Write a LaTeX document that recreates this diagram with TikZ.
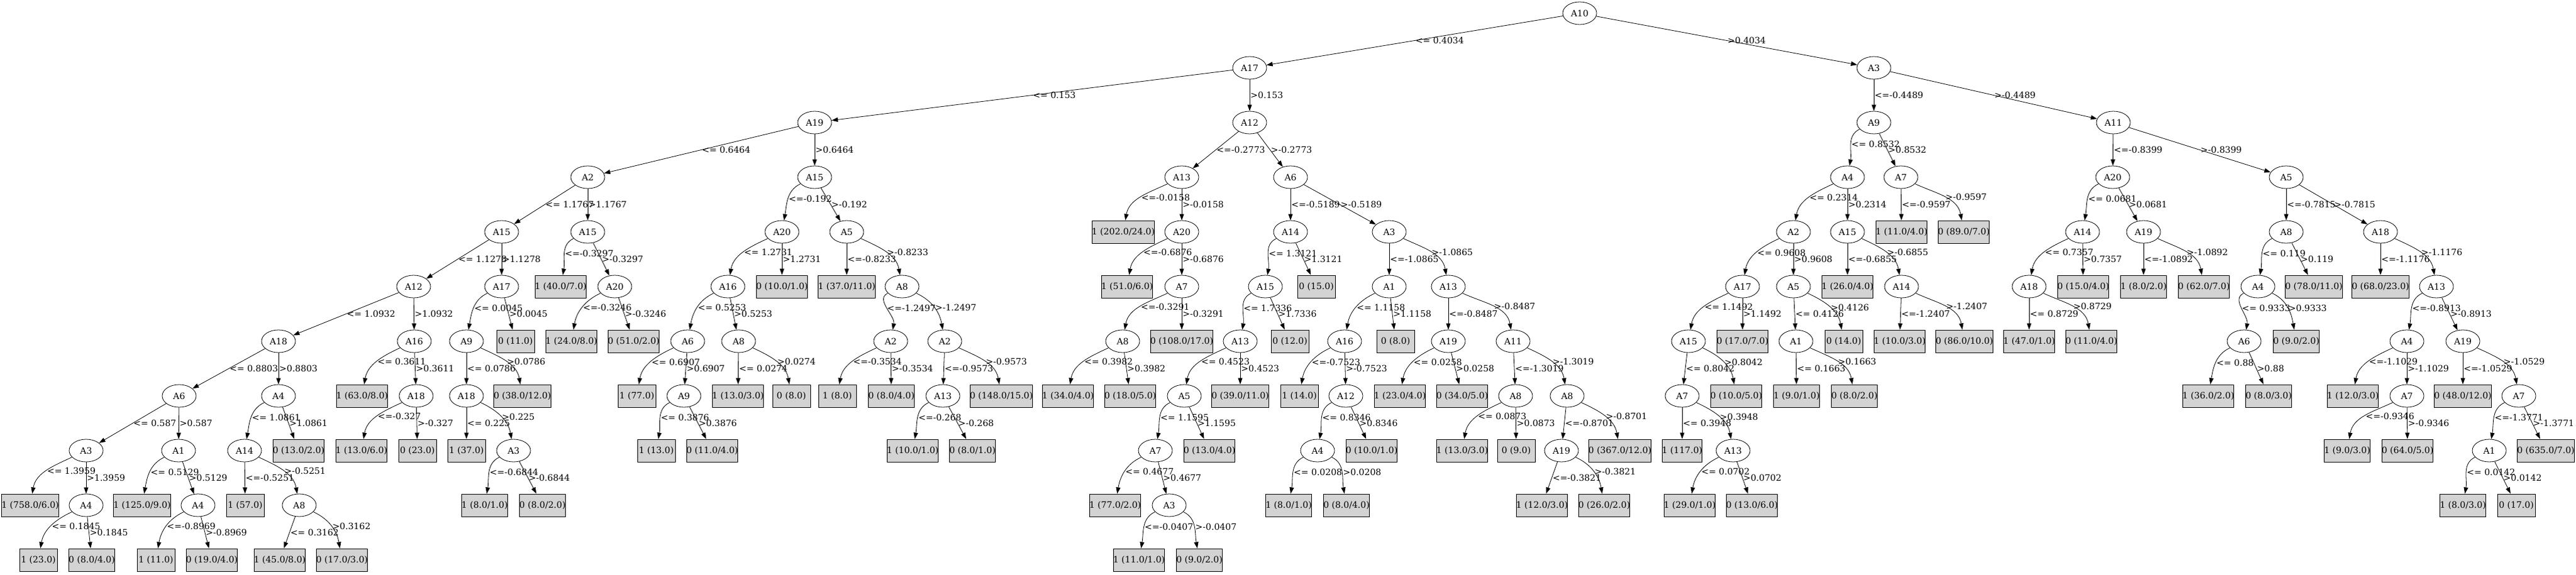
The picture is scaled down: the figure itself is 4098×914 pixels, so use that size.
\documentclass[tikz,border=0pt]{standalone}
\usepackage{fontspec}
\setmainfont{DejaVu Serif}
\usetikzlibrary{arrows.meta,shapes.geometric}
\definecolor{leafgray}{HTML}{D3D3D3}
\begin{document}
\begin{tikzpicture}[x=1pt,y=1pt,
  attr/.style={ellipse,draw,line width=0.8pt,minimum width=54pt,minimum height=36pt,inner sep=0pt,font=\fontsize{14}{17}\selectfont},
  leaf/.style={rectangle,draw,line width=0.9pt,fill=leafgray,minimum width=60pt,minimum height=36pt,inner xsep=-0.5pt,inner ysep=0pt,font=\fontsize{14}{17}\selectfont},
  edge/.style={line width=0.8pt,-{Triangle[length=10pt,width=7pt]}},
  flat/.style={},
  bendl/.style={out=205,in=80},
  bendr/.style={out=-25,in=100},
  lbl/.style={anchor=west,inner sep=1pt,font=\fontsize{14}{17}\selectfont}]
\useasboundingbox (0,0) rectangle (4098,-914);
% left half: A17
\node[attr] (n) at (2513,-21) {A10};
\node[attr] (nl) at (1988,-108) {A17};
\node[attr] (nll) at (1296,-195) {A19};
\node[attr] (nlll) at (935,-282) {A2};
\node[attr] (nllll) at (798,-369) {A15};
\node[attr] (nlllll) at (658,-456) {A12};
\node[attr] (nllllll) at (443,-543) {A18};
\node[attr] (nlllllll) at (285,-630) {A6};
\node[attr] (nllllllll) at (137,-717) {A3};
\node[leaf] (nlllllllll) at (48,-804) {1 (758.0/6.0)};
\node[attr] (nllllllllr) at (137,-804) {A4};
\node[leaf] (nllllllllrl) at (61,-891) {1 (23.0)};
\node[leaf] (nllllllllrr) at (146,-891) {0 (8.0/4.0)};
\node[attr] (nlllllllr) at (284,-717) {A1};
\node[leaf] (nlllllllrl) at (226,-804) {1 (125.0/9.0)};
\node[attr] (nlllllllrr) at (315,-804) {A4};
\node[leaf] (nlllllllrrl) at (248,-891) {1 (11.0)};
\node[leaf] (nlllllllrrr) at (337,-891) {0 (19.0/4.0)};
\node[attr] (nllllllr) at (443,-630) {A4};
\node[attr] (nllllllrl) at (389,-717) {A14};
\node[leaf] (nllllllrll) at (390,-804) {1 (57.0)};
\node[attr] (nllllllrlr) at (476,-804) {A8};
\node[leaf] (nllllllrlrl) at (445,-891) {1 (45.0/8.0)};
\node[leaf] (nllllllrlrr) at (544,-891) {0 (17.0/3.0)};
\node[leaf] (nllllllrr) at (475,-717) {0 (13.0/2.0)};
\node[attr] (nlllllr) at (659,-543) {A16};
\node[leaf] (nlllllrl) at (576,-630) {1 (63.0/8.0)};
\node[attr] (nlllllrr) at (662,-630) {A18};
\node[leaf] (nlllllrrl) at (575,-717) {1 (13.0/6.0)};
\node[leaf] (nlllllrrr) at (664,-717) {0 (23.0)};
\node[attr] (nllllr) at (798,-456) {A17};
\node[attr] (nllllrl) at (742,-543) {A9};
\node[attr] (nllllrll) at (742,-630) {A18};
\node[leaf] (nllllrlll) at (742,-717) {1 (37.0)};
\node[attr] (nllllrllr) at (817,-717) {A3};
\node[leaf] (nllllrllrl) at (771,-804) {1 (8.0/1.0)};
\node[leaf] (nllllrllrr) at (863,-804) {0 (8.0/2.0)};
\node[leaf] (nllllrlr) at (831,-630) {0 (38.0/12.0)};
\node[leaf] (nllllrr) at (820,-543) {0 (11.0)};
\node[attr] (nlllr) at (935,-369) {A15};
\node[leaf] (nlllrl) at (892,-456) {1 (40.0/7.0)};
\node[attr] (nlllrr) at (978,-456) {A20};
\node[leaf] (nlllrrl) at (909,-543) {1 (24.0/8.0)};
\node[leaf] (nlllrrr) at (1008,-543) {0 (51.0/2.0)};
\node[attr] (nllr) at (1296,-282) {A15};
\node[attr] (nllrl) at (1244,-369) {A20};
\node[attr] (nllrll) at (1158,-456) {A16};
\node[attr] (nllrlll) at (1094,-543) {A6};
\node[leaf] (nllrllll) at (1013,-630) {1 (77.0)};
\node[attr] (nllrlllr) at (1088,-630) {A9};
\node[leaf] (nllrlllrl) at (1044,-717) {1 (13.0)};
\node[leaf] (nllrlllrr) at (1133,-717) {0 (11.0/4.0)};
\node[attr] (nllrllr) at (1175,-543) {A8};
\node[leaf] (nllrllrl) at (1174,-630) {1 (13.0/3.0)};
\node[leaf] (nllrllrr) at (1259,-630) {0 (8.0)};
\node[leaf] (nllrlr) at (1244,-456) {0 (10.0/1.0)};
\node[attr] (nllrr) at (1347,-369) {A5};
\node[leaf] (nllrrl) at (1347,-456) {1 (37.0/11.0)};
\node[attr] (nllrrr) at (1435,-456) {A8};
\node[attr] (nllrrrl) at (1417,-543) {A2};
\node[leaf] (nllrrrll) at (1332,-630) {1 (8.0)};
\node[leaf] (nllrrrlr) at (1418,-630) {0 (8.0/4.0)};
\node[attr] (nllrrrr) at (1503,-543) {A2};
\node[attr] (nllrrrrl) at (1500,-630) {A13};
\node[leaf] (nllrrrrll) at (1452,-717) {1 (10.0/1.0)};
\node[leaf] (nllrrrrlr) at (1547,-717) {0 (8.0/1.0)};
\node[leaf] (nllrrrrr) at (1593,-630) {0 (148.0/15.0)};
\node[attr] (nlr) at (1988,-195) {A12};
\node[attr] (nlrl) at (1880,-282) {A13};
\node[leaf] (nlrll) at (1787,-369) {1 (202.0/24.0)};
\node[attr] (nlrlr) at (1880,-369) {A20};
\node[leaf] (nlrlrl) at (1793,-456) {1 (51.0/6.0)};
\node[attr] (nlrlrr) at (1880,-456) {A7};
\node[attr] (nlrlrrl) at (1786,-543) {A8};
\node[leaf] (nlrlrrll) at (1699,-630) {1 (34.0/4.0)};
\node[leaf] (nlrlrrlr) at (1798,-630) {0 (18.0/5.0)};
\node[leaf] (nlrlrrr) at (1880,-543) {0 (108.0/17.0)};
\node[attr] (nlrr) at (2053,-282) {A6};
\node[attr] (nlrrl) at (2053,-369) {A14};
\node[attr] (nlrrll) at (2013,-456) {A15};
\node[attr] (nlrrlll) at (1973,-543) {A13};
\node[attr] (nlrrllll) at (1884,-630) {A5};
\node[attr] (nlrrlllll) at (1838,-717) {A7};
\node[leaf] (nlrrllllll) at (1774,-804) {1 (77.0/2.0)};
\node[attr] (nlrrlllllr) at (1860,-804) {A3};
\node[leaf] (nlrrlllllrl) at (1812,-891) {1 (11.0/1.0)};
\node[leaf] (nlrrlllllrr) at (1908,-891) {0 (9.0/2.0)};
\node[leaf] (nlrrllllr) at (1924,-717) {0 (13.0/4.0)};
\node[leaf] (nlrrlllr) at (1973,-630) {0 (39.0/11.0)};
\node[leaf] (nlrrllr) at (2052,-543) {0 (12.0)};
\node[leaf] (nlrrlr) at (2094,-456) {0 (15.0)};
\node[attr] (nlrrr) at (2210,-369) {A3};
\node[attr] (nlrrrl) at (2210,-456) {A1};
\node[attr] (nlrrrll) at (2139,-543) {A16};
\node[leaf] (nlrrrlll) at (2067,-630) {1 (14.0)};
\node[attr] (nlrrrllr) at (2141,-630) {A12};
\node[attr] (nlrrrllrl) at (2096,-717) {A4};
\node[leaf] (nlrrrllrll) at (2050,-804) {1 (8.0/1.0)};
\node[leaf] (nlrrrllrlr) at (2142,-804) {0 (8.0/4.0)};
\node[leaf] (nlrrrllrr) at (2182,-717) {0 (10.0/1.0)};
\node[leaf] (nlrrrlr) at (2220,-543) {0 (8.0)};
\node[attr] (nlrrrr) at (2304,-456) {A13};
\node[attr] (nlrrrrl) at (2304,-543) {A19};
\node[leaf] (nlrrrrll) at (2227,-630) {1 (23.0/4.0)};
\node[leaf] (nlrrrrlr) at (2326,-630) {0 (34.0/5.0)};
\node[attr] (nlrrrrr) at (2407,-543) {A11};
\node[attr] (nlrrrrrl) at (2411,-630) {A8};
\node[leaf] (nlrrrrrll) at (2326,-717) {1 (13.0/3.0)};
\node[leaf] (nlrrrrrlr) at (2412,-717) {0 (9.0)};
\node[attr] (nlrrrrrr) at (2493,-630) {A8};
\node[attr] (nlrrrrrrl) at (2484,-717) {A19};
\node[leaf] (nlrrrrrrll) at (2453,-804) {1 (12.0/3.0)};
\node[leaf] (nlrrrrrrlr) at (2552,-804) {0 (26.0/2.0)};
\node[leaf] (nlrrrrrrr) at (2577,-717) {0 (367.0/12.0)};
% right half: A3
\node[attr] (nr) at (2981,-108) {A3};
\node[attr] (nrl) at (2981,-195) {A9};
\node[attr] (nrll) at (2939,-282) {A4};
\node[attr] (nrlll) at (2853,-369) {A2};
\node[attr] (nrllll) at (2772,-456) {A17};
\node[attr] (nrlllll) at (2686,-543) {A15};
\node[attr] (nrllllll) at (2676,-630) {A7};
\node[leaf] (nrlllllll) at (2676,-717) {1 (117.0)};
\node[attr] (nrllllllr) at (2757,-717) {A13};
\node[leaf] (nrllllllrl) at (2688,-804) {1 (29.0/1.0)};
\node[leaf] (nrllllllrr) at (2787,-804) {0 (13.0/6.0)};
\node[leaf] (nrlllllr) at (2762,-630) {0 (10.0/5.0)};
\node[leaf] (nrllllr) at (2772,-543) {0 (17.0/7.0)};
\node[attr] (nrlllr) at (2853,-456) {A5};
\node[attr] (nrlllrl) at (2857,-543) {A1};
\node[leaf] (nrlllrll) at (2858,-630) {1 (9.0/1.0)};
\node[leaf] (nrlllrlr) at (2950,-630) {0 (8.0/2.0)};
\node[leaf] (nrlllrr) at (2933,-543) {0 (14.0)};
\node[attr] (nrllr) at (2939,-369) {A15};
\node[leaf] (nrllrl) at (2939,-456) {1 (26.0/4.0)};
\node[attr] (nrllrr) at (3025,-456) {A14};
\node[leaf] (nrllrrl) at (3022,-543) {1 (10.0/3.0)};
\node[leaf] (nrllrrr) at (3125,-543) {0 (86.0/10.0)};
\node[attr] (nrlr) at (3024,-282) {A7};
\node[leaf] (nrlrl) at (3025,-369) {1 (11.0/4.0)};
\node[leaf] (nrlrr) at (3124,-369) {0 (89.0/7.0)};
\node[attr] (nrr) at (3362,-195) {A11};
\node[attr] (nrrl) at (3361,-282) {A20};
\node[attr] (nrrll) at (3313,-369) {A14};
\node[attr] (nrrlll) at (3228,-456) {A18};
\node[leaf] (nrrllll) at (3228,-543) {1 (47.0/1.0)};
\node[leaf] (nrrlllr) at (3327,-543) {0 (11.0/4.0)};
\node[leaf] (nrrllr) at (3314,-456) {0 (15.0/4.0)};
\node[attr] (nrrlr) at (3410,-369) {A19};
\node[leaf] (nrrlrl) at (3410,-456) {1 (8.0/2.0)};
\node[leaf] (nrrlrr) at (3506,-456) {0 (62.0/7.0)};
\node[attr] (nrrr) at (3637,-282) {A5};
\node[attr] (nrrrl) at (3637,-369) {A8};
\node[attr] (nrrrll) at (3592,-456) {A4};
\node[attr] (nrrrlll) at (3570,-543) {A6};
\node[leaf] (nrrrllll) at (3513,-630) {1 (36.0/2.0)};
\node[leaf] (nrrrlllr) at (3609,-630) {0 (8.0/3.0)};
\node[leaf] (nrrrllr) at (3653,-543) {0 (9.0/2.0)};
\node[leaf] (nrrrlr) at (3681,-456) {0 (78.0/11.0)};
\node[attr] (nrrrr) at (3787,-369) {A18};
\node[leaf] (nrrrrl) at (3787,-456) {0 (68.0/23.0)};
\node[attr] (nrrrrr) at (3876,-456) {A13};
\node[attr] (nrrrrrl) at (3829,-543) {A4};
\node[leaf] (nrrrrrll) at (3743,-630) {1 (12.0/3.0)};
\node[attr] (nrrrrrlr) at (3829,-630) {A7};
\node[leaf] (nrrrrrlrl) at (3734,-717) {1 (9.0/3.0)};
\node[leaf] (nrrrrrlrr) at (3830,-717) {0 (64.0/5.0)};
\node[attr] (nrrrrrr) at (3918,-543) {A19};
\node[leaf] (nrrrrrrl) at (3918,-630) {0 (48.0/12.0)};
\node[attr] (nrrrrrrr) at (4007,-630) {A7};
\node[attr] (nrrrrrrrl) at (3960,-717) {A1};
\node[leaf] (nrrrrrrrll) at (3918,-804) {1 (8.0/3.0)};
\node[leaf] (nrrrrrrrlr) at (4003,-804) {0 (17.0)};
\node[leaf] (nrrrrrrrr) at (4050,-717) {0 (635.0/7.0)};
% branches
\foreach \pa/\ch/\bd/\lb in {
  n/nl/flat/<= 0.4034, n/nr/flat/>0.4034,
  nl/nll/flat/<= 0.153, nl/nlr/flat/>0.153,
  nll/nlll/flat/<= 0.6464, nll/nllr/flat/>0.6464,
  nlll/nllll/flat/<= 1.1767, nlll/nlllr/flat/>1.1767,
  nllll/nlllll/flat/<= 1.1278, nllll/nllllr/flat/>1.1278,
  nlllll/nllllll/flat/<= 1.0932, nlllll/nlllllr/flat/>1.0932,
  nllllll/nlllllll/flat/<= 0.8803, nllllll/nllllllr/flat/>0.8803,
  nlllllll/nllllllll/flat/<= 0.587, nlllllll/nlllllllr/flat/>0.587,
  nllllllll/nlllllllll/bendl/<= 1.3959, nllllllll/nllllllllr/flat/>1.3959,
  nllllllllr/nllllllllrl/bendl/<= 0.1845, nllllllllr/nllllllllrr/flat/>0.1845,
  nlllllllr/nlllllllrl/bendl/<= 0.5129, nlllllllr/nlllllllrr/flat/>0.5129,
  nlllllllrr/nlllllllrrl/bendl/<=-0.8969, nlllllllrr/nlllllllrrr/flat/>-0.8969,
  nllllllr/nllllllrl/bendl/<= 1.0861, nllllllr/nllllllrr/flat/>1.0861,
  nllllllrl/nllllllrll/flat/<=-0.5251, nllllllrl/nllllllrlr/bendr/>-0.5251,
  nllllllrlr/nllllllrlrl/flat/<= 0.3162, nllllllrlr/nllllllrlrr/bendr/>0.3162,
  nlllllr/nlllllrl/bendl/<= 0.3611, nlllllr/nlllllrr/flat/>0.3611,
  nlllllrr/nlllllrrl/bendl/<=-0.327, nlllllrr/nlllllrrr/flat/>-0.327,
  nllllr/nllllrl/bendl/<= 0.0045, nllllr/nllllrr/flat/>0.0045,
  nllllrl/nllllrll/flat/<= 0.0786, nllllrl/nllllrlr/bendr/>0.0786,
  nllllrll/nllllrlll/flat/<= 0.225, nllllrll/nllllrllr/bendr/>0.225,
  nllllrllr/nllllrllrl/bendl/<=-0.6844, nllllrllr/nllllrllrr/flat/>-0.6844,
  nlllr/nlllrl/bendl/<=-0.3297, nlllr/nlllrr/flat/>-0.3297,
  nlllrr/nlllrrl/bendl/<=-0.3246, nlllrr/nlllrrr/flat/>-0.3246,
  nllr/nllrl/bendl/<=-0.192, nllr/nllrr/flat/>-0.192,
  nllrl/nllrll/bendl/<= 1.2731, nllrl/nllrlr/flat/>1.2731,
  nllrll/nllrlll/bendl/<= 0.5253, nllrll/nllrllr/flat/>0.5253,
  nllrlll/nllrllll/bendl/<= 0.6907, nllrlll/nllrlllr/flat/>0.6907,
  nllrlllr/nllrlllrl/bendl/<= 0.3876, nllrlllr/nllrlllrr/flat/>0.3876,
  nllrllr/nllrllrl/flat/<= 0.0274, nllrllr/nllrllrr/bendr/>0.0274,
  nllrr/nllrrl/flat/<=-0.8233, nllrr/nllrrr/bendr/>-0.8233,
  nllrrr/nllrrrl/bendl/<=-1.2497, nllrrr/nllrrrr/bendr/>-1.2497,
  nllrrrl/nllrrrll/bendl/<=-0.3534, nllrrrl/nllrrrlr/flat/>-0.3534,
  nllrrrr/nllrrrrl/flat/<=-0.9573, nllrrrr/nllrrrrr/bendr/>-0.9573,
  nllrrrrl/nllrrrrll/bendl/<=-0.268, nllrrrrl/nllrrrrlr/flat/>-0.268,
  nlr/nlrl/flat/<=-0.2773, nlr/nlrr/flat/>-0.2773,
  nlrl/nlrll/bendl/<=-0.0158, nlrl/nlrlr/flat/>-0.0158,
  nlrlr/nlrlrl/bendl/<=-0.6876, nlrlr/nlrlrr/flat/>-0.6876,
  nlrlrr/nlrlrrl/bendl/<=-0.3291, nlrlrr/nlrlrrr/flat/>-0.3291,
  nlrlrrl/nlrlrrll/bendl/<= 0.3982, nlrlrrl/nlrlrrlr/flat/>0.3982,
  nlrr/nlrrl/flat/<=-0.5189, nlrr/nlrrr/flat/>-0.5189,
  nlrrl/nlrrll/bendl/<= 1.3121, nlrrl/nlrrlr/flat/>1.3121,
  nlrrll/nlrrlll/bendl/<= 1.7336, nlrrll/nlrrllr/flat/>1.7336,
  nlrrlll/nlrrllll/bendl/<= 0.4523, nlrrlll/nlrrlllr/flat/>0.4523,
  nlrrllll/nlrrlllll/bendl/<= 1.1595, nlrrllll/nlrrllllr/flat/>1.1595,
  nlrrlllll/nlrrllllll/bendl/<= 0.4677, nlrrlllll/nlrrlllllr/flat/>0.4677,
  nlrrlllllr/nlrrlllllrl/bendl/<=-0.0407, nlrrlllllr/nlrrlllllrr/bendr/>-0.0407,
  nlrrr/nlrrrl/flat/<=-1.0865, nlrrr/nlrrrr/bendr/>-1.0865,
  nlrrrl/nlrrrll/bendl/<= 1.1158, nlrrrl/nlrrrlr/flat/>1.1158,
  nlrrrll/nlrrrlll/bendl/<=-0.7523, nlrrrll/nlrrrllr/flat/>-0.7523,
  nlrrrllr/nlrrrllrl/bendl/<= 0.8346, nlrrrllr/nlrrrllrr/flat/>0.8346,
  nlrrrllrl/nlrrrllrll/bendl/<= 0.0208, nlrrrllrl/nlrrrllrlr/bendr/>0.0208,
  nlrrrr/nlrrrrl/flat/<=-0.8487, nlrrrr/nlrrrrr/bendr/>-0.8487,
  nlrrrrl/nlrrrrll/bendl/<= 0.0258, nlrrrrl/nlrrrrlr/flat/>0.0258,
  nlrrrrr/nlrrrrrl/flat/<=-1.3019, nlrrrrr/nlrrrrrr/bendr/>-1.3019,
  nlrrrrrl/nlrrrrrll/bendl/<= 0.0873, nlrrrrrl/nlrrrrrlr/flat/>0.0873,
  nlrrrrrr/nlrrrrrrl/flat/<=-0.8701, nlrrrrrr/nlrrrrrrr/bendr/>-0.8701,
  nlrrrrrrl/nlrrrrrrll/flat/<=-0.3821, nlrrrrrrl/nlrrrrrrlr/bendr/>-0.3821,
  nr/nrl/flat/<=-0.4489, nr/nrr/flat/>-0.4489,
  nrl/nrll/bendl/<= 0.8532, nrl/nrlr/flat/>0.8532,
  nrll/nrlll/bendl/<= 0.2314, nrll/nrllr/flat/>0.2314,
  nrlll/nrllll/bendl/<= 0.9608, nrlll/nrlllr/flat/>0.9608,
  nrllll/nrlllll/bendl/<= 1.1492, nrllll/nrllllr/flat/>1.1492,
  nrlllll/nrllllll/flat/<= 0.8042, nrlllll/nrlllllr/bendr/>0.8042,
  nrllllll/nrlllllll/flat/<= 0.3948, nrllllll/nrllllllr/bendr/>0.3948,
  nrllllllr/nrllllllrl/bendl/<= 0.0702, nrllllllr/nrllllllrr/flat/>0.0702,
  nrlllr/nrlllrl/flat/<= 0.4126, nrlllr/nrlllrr/bendr/>0.4126,
  nrlllrl/nrlllrll/flat/<= 0.1663, nrlllrl/nrlllrlr/bendr/>0.1663,
  nrllr/nrllrl/flat/<=-0.6855, nrllr/nrllrr/bendr/>-0.6855,
  nrllrr/nrllrrl/flat/<=-1.2407, nrllrr/nrllrrr/bendr/>-1.2407,
  nrlr/nrlrl/flat/<=-0.9597, nrlr/nrlrr/bendr/>-0.9597,
  nrr/nrrl/flat/<=-0.8399, nrr/nrrr/flat/>-0.8399,
  nrrl/nrrll/bendl/<= 0.0681, nrrl/nrrlr/flat/>0.0681,
  nrrll/nrrlll/bendl/<= 0.7357, nrrll/nrrllr/flat/>0.7357,
  nrrlll/nrrllll/flat/<= 0.8729, nrrlll/nrrlllr/bendr/>0.8729,
  nrrlr/nrrlrl/flat/<=-1.0892, nrrlr/nrrlrr/bendr/>-1.0892,
  nrrr/nrrrl/flat/<=-0.7815, nrrr/nrrrr/flat/>-0.7815,
  nrrrl/nrrrll/bendl/<= 0.119, nrrrl/nrrrlr/flat/>0.119,
  nrrrll/nrrrlll/bendl/<= 0.9333, nrrrll/nrrrllr/bendr/>0.9333,
  nrrrlll/nrrrllll/bendl/<= 0.88, nrrrlll/nrrrlllr/flat/>0.88,
  nrrrr/nrrrrl/flat/<=-1.1176, nrrrr/nrrrrr/bendr/>-1.1176,
  nrrrrr/nrrrrrl/bendl/<=-0.8913, nrrrrr/nrrrrrr/flat/>-0.8913,
  nrrrrrl/nrrrrrll/bendl/<=-1.1029, nrrrrrl/nrrrrrlr/flat/>-1.1029,
  nrrrrrlr/nrrrrrlrl/bendl/<=-0.9346, nrrrrrlr/nrrrrrlrr/flat/>-0.9346,
  nrrrrrr/nrrrrrrl/flat/<=-1.0529, nrrrrrr/nrrrrrrr/bendr/>-1.0529,
  nrrrrrrr/nrrrrrrrl/bendl/<=-1.3771, nrrrrrrr/nrrrrrrrr/flat/>-1.3771,
  nrrrrrrrl/nrrrrrrrll/bendl/<= 0.0142, nrrrrrrrl/nrrrrrrrlr/flat/>0.0142}
  \draw[edge,\bd] (\pa) to node[lbl]{\lb} (\ch);
\end{tikzpicture}
\end{document}
